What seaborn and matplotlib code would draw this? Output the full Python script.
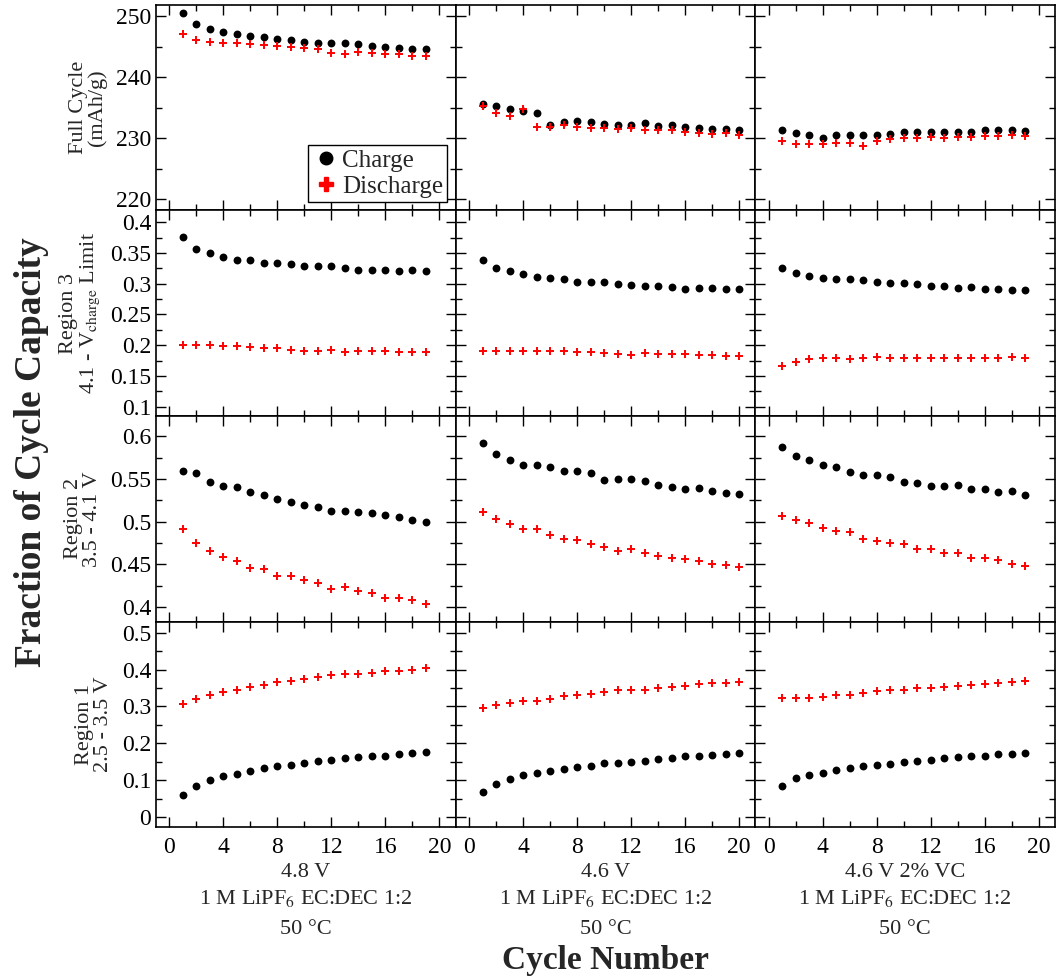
import matplotlib

matplotlib.use("Agg")
import matplotlib.pyplot as plt
import numpy as np
import pandas as pd
import seaborn as sns
from matplotlib.lines import Line2D
from matplotlib.ticker import FuncFormatter, MultipleLocator

# cells (columns) and capacity windows (rows)
cells = ["4.8 V", "4.6 V", "4.6 V 2% VC"]
regions = ["Full Cycle", "Region 3", "Region 2", "Region 1"]
cell_labels = [
    ["4.8 V", "1 M LiPF$_6$ EC:DEC 1:2", "50 \u00b0C"],
    ["4.6 V", "1 M LiPF$_6$ EC:DEC 1:2", "50 \u00b0C"],
    ["4.6 V 2% VC", "1 M LiPF$_6$ EC:DEC 1:2", "50 \u00b0C"],
]
region_labels = [
    "Full Cycle\n(mAh/g)",
    "Region 3\n4.1 - V$_{\\mathrm{charge}}$ Limit",
    "Region 2\n3.5 - 4.1 V",
    "Region 1\n2.5 - 3.5 V",
]

# full cycle capacity (mAh/g)
full_48_charge = [250.4, 248.7, 247.8, 247.3, 247.0, 246.7, 246.5, 246.2, 246.0, 245.7,
                  245.5, 245.5, 245.5, 245.4, 245.1, 245.0, 244.8, 244.6, 244.6]
full_48_discharge = [247.1, 246.1, 245.8, 245.6, 245.5, 245.4, 245.2, 245.1, 244.9, 244.7,
                     244.6, 243.9, 243.8, 244.1, 243.9, 243.8, 243.7, 243.4, 243.5]
full_46_charge = [235.6, 235.2, 234.8, 234.4, 234.2, 232.2, 232.7, 232.8, 232.6, 232.4,
                  232.2, 232.2, 232.5, 232.0, 232.1, 231.9, 231.7, 231.5, 231.5, 231.4]
full_46_discharge = [235.3, 234.2, 233.7, 234.8, 231.8, 231.8, 232.1, 231.9, 231.7, 231.6,
                     231.5, 231.6, 231.4, 231.4, 231.3, 231.1, 230.9, 230.7, 230.8, 230.5]
full_vc_charge = [231.3, 230.8, 230.6, 230.0, 230.5, 230.5, 230.5, 230.6, 230.7, 231.0,
                  231.1, 231.1, 231.1, 231.1, 231.1, 231.3, 231.3, 231.3, 231.2]
full_vc_discharge = [229.5, 229.0, 229.0, 229.0, 229.2, 229.3, 228.8, 229.5, 229.8, 230.0,
                     230.1, 230.2, 230.0, 230.2, 230.2, 230.4, 230.4, 230.5, 230.4]

# region 3: 4.1 V - charge limit
r3_48_charge = [0.376, 0.357, 0.350, 0.344, 0.338, 0.338, 0.334, 0.333, 0.332, 0.329,
                0.328, 0.328, 0.326, 0.322, 0.322, 0.322, 0.320, 0.322, 0.321]
r3_48_discharge = [0.200, 0.201, 0.200, 0.198, 0.199, 0.197, 0.196, 0.196, 0.192, 0.191,
                   0.191, 0.192, 0.189, 0.190, 0.190, 0.190, 0.189, 0.189, 0.189]
r3_46_charge = [0.339, 0.326, 0.321, 0.316, 0.311, 0.310, 0.308, 0.303, 0.303, 0.302,
                0.300, 0.298, 0.296, 0.296, 0.295, 0.292, 0.293, 0.293, 0.292, 0.292]
r3_46_discharge = [0.191, 0.191, 0.191, 0.191, 0.191, 0.191, 0.191, 0.189, 0.189, 0.187,
                   0.186, 0.184, 0.187, 0.186, 0.186, 0.185, 0.184, 0.184, 0.183, 0.183]
r3_vc_charge = [0.325, 0.317, 0.312, 0.310, 0.308, 0.307, 0.306, 0.303, 0.301, 0.301,
                0.299, 0.297, 0.296, 0.293, 0.294, 0.291, 0.291, 0.290, 0.290]
r3_vc_discharge = [0.166, 0.173, 0.177, 0.179, 0.180, 0.178, 0.180, 0.181, 0.180, 0.179,
                   0.180, 0.180, 0.180, 0.180, 0.180, 0.180, 0.180, 0.181, 0.180]

# region 2: 3.5 - 4.1 V
r2_48_charge = [0.560, 0.557, 0.547, 0.542, 0.541, 0.535, 0.531, 0.527, 0.523, 0.520,
                0.517, 0.513, 0.513, 0.511, 0.510, 0.508, 0.506, 0.502, 0.500]
r2_48_discharge = [0.491, 0.475, 0.466, 0.459, 0.454, 0.446, 0.445, 0.437, 0.436, 0.432,
                   0.428, 0.421, 0.423, 0.419, 0.417, 0.411, 0.411, 0.408, 0.404]
r2_46_charge = [0.592, 0.579, 0.573, 0.567, 0.567, 0.564, 0.559, 0.559, 0.557, 0.549,
                0.550, 0.550, 0.548, 0.543, 0.541, 0.539, 0.540, 0.536, 0.534, 0.532]
r2_46_discharge = [0.511, 0.503, 0.497, 0.491, 0.492, 0.484, 0.480, 0.479, 0.474, 0.471,
                   0.466, 0.468, 0.463, 0.460, 0.458, 0.456, 0.454, 0.451, 0.449, 0.447]
r2_vc_charge = [0.588, 0.577, 0.572, 0.567, 0.564, 0.558, 0.555, 0.555, 0.553, 0.547,
                0.546, 0.542, 0.542, 0.543, 0.538, 0.539, 0.535, 0.536, 0.531]
r2_vc_discharge = [0.507, 0.502, 0.498, 0.493, 0.489, 0.488, 0.480, 0.478, 0.475, 0.474,
                   0.468, 0.468, 0.463, 0.463, 0.457, 0.457, 0.455, 0.450, 0.448]

# region 1: 2.5 - 3.5 V
r1_48_charge = [0.061, 0.084, 0.100, 0.111, 0.118, 0.126, 0.133, 0.138, 0.142, 0.148,
                0.153, 0.156, 0.160, 0.164, 0.166, 0.167, 0.170, 0.175, 0.176]
r1_48_discharge = [0.306, 0.321, 0.330, 0.339, 0.344, 0.354, 0.358, 0.365, 0.370, 0.375,
                   0.380, 0.386, 0.387, 0.389, 0.391, 0.396, 0.397, 0.399, 0.404]
r1_46_charge = [0.067, 0.091, 0.104, 0.115, 0.119, 0.124, 0.130, 0.136, 0.138, 0.146,
                0.147, 0.149, 0.153, 0.158, 0.161, 0.165, 0.165, 0.169, 0.171, 0.173]
r1_46_discharge = [0.296, 0.303, 0.310, 0.316, 0.316, 0.321, 0.327, 0.331, 0.335, 0.339,
                   0.344, 0.344, 0.345, 0.350, 0.354, 0.356, 0.360, 0.363, 0.364, 0.366]
r1_vc_charge = [0.085, 0.105, 0.114, 0.121, 0.127, 0.133, 0.138, 0.142, 0.145, 0.149,
                0.153, 0.156, 0.160, 0.162, 0.165, 0.166, 0.171, 0.172, 0.175]
r1_vc_discharge = [0.324, 0.322, 0.323, 0.326, 0.330, 0.332, 0.337, 0.341, 0.344, 0.344,
                   0.349, 0.350, 0.354, 0.355, 0.359, 0.362, 0.364, 0.366, 0.368]

series = {
    ("Full Cycle", "4.8 V"): (full_48_charge, full_48_discharge),
    ("Full Cycle", "4.6 V"): (full_46_charge, full_46_discharge),
    ("Full Cycle", "4.6 V 2% VC"): (full_vc_charge, full_vc_discharge),
    ("Region 3", "4.8 V"): (r3_48_charge, r3_48_discharge),
    ("Region 3", "4.6 V"): (r3_46_charge, r3_46_discharge),
    ("Region 3", "4.6 V 2% VC"): (r3_vc_charge, r3_vc_discharge),
    ("Region 2", "4.8 V"): (r2_48_charge, r2_48_discharge),
    ("Region 2", "4.6 V"): (r2_46_charge, r2_46_discharge),
    ("Region 2", "4.6 V 2% VC"): (r2_vc_charge, r2_vc_discharge),
    ("Region 1", "4.8 V"): (r1_48_charge, r1_48_discharge),
    ("Region 1", "4.6 V"): (r1_46_charge, r1_46_discharge),
    ("Region 1", "4.6 V 2% VC"): (r1_vc_charge, r1_vc_discharge),
}

rows = []
for (region, cell), (charge, discharge) in series.items():
    for name, values in (("Charge", charge), ("Discharge", discharge)):
        for cycle, value in enumerate(values, start=1):
            rows.append({"region": region, "cell": cell, "step": name,
                         "cycle": cycle, "value": value})
data = pd.DataFrame(rows)

row_limits = [(218.2, 251.8), (0.085, 0.419), (0.383, 0.624), (-0.027, 0.53)]
row_major = [10, 0.05, 0.05, 0.1]
row_minor = [5, 0.025, 0.025, 0.05]

sns.set_theme(style="ticks")
plt.rcParams["font.family"] = ["Liberation Serif", "DejaVu Serif"]
plt.rcParams["mathtext.fontset"] = "stix"

fig, axes = plt.subplots(4, 3, figsize=(10.58, 9.8), dpi=100, sharex=True, sharey="row")
fig.subplots_adjust(left=0.1474, right=0.997, top=0.995, bottom=0.156,
                    hspace=0, wspace=0)

for i, region in enumerate(regions):
    for j, cell in enumerate(cells):
        ax = axes[i, j]
        sub = data[(data["region"] == region) & (data["cell"] == cell)]
        sns.scatterplot(data=sub[sub["step"] == "Charge"], x="cycle", y="value",
                        color="black", marker="o", s=32, linewidth=0, ax=ax)
        sns.scatterplot(data=sub[sub["step"] == "Discharge"], x="cycle", y="value",
                        color="red", marker="+", s=40, linewidth=1.4, ax=ax)
        ax.set_xlim(-1, 21.2)
        ax.set_ylim(*row_limits[i])
        ax.xaxis.set_major_locator(MultipleLocator(4))
        ax.xaxis.set_minor_locator(MultipleLocator(2))
        ax.yaxis.set_major_locator(MultipleLocator(row_major[i]))
        ax.yaxis.set_minor_locator(MultipleLocator(row_minor[i]))
        ax.yaxis.set_major_formatter(FuncFormatter(lambda v, _: f"{v:g}"))
        ax.tick_params(which="both", direction="in", top=True, right=True,
                       colors="black", labelsize=17)
        ax.tick_params(which="major", length=7, width=1)
        ax.tick_params(which="minor", length=4, width=1)
        ax.tick_params(axis="x", pad=7)
        for spine in ax.spines.values():
            spine.set_linewidth(1.2)
            spine.set_color("black")
        ax.set_xlabel("")
        ax.set_ylabel("")
        if j == 0:
            ax.set_ylabel(region_labels[i], fontsize=16, labelpad=6, linespacing=1.0)

handles = [
    Line2D([], [], linestyle="", marker="o", color="black", markersize=9),
    Line2D([], [], linestyle="", marker="P", color="red", markersize=10),
]
axes[0, 0].legend(handles, ["Charge", "Discharge"], loc="lower right",
                  fontsize=18, frameon=True, fancybox=False, edgecolor="black",
                  framealpha=1, borderaxespad=0.35, handletextpad=0.1,
                  handlelength=1.1, borderpad=0.15, labelspacing=0.15)

for j in range(3):
    pos = axes[3, j].get_position()
    xc = (pos.x0 + pos.x1) / 2
    for k, text in enumerate(cell_labels[j]):
        fig.text(xc, 1 - (872 + 26 * k + (5 if k == 2 else 0)) / 980, text,
                 ha="center", va="center", fontsize=16)

fig.text(0.030, 1 - 452 / 980, "Fraction of Cycle Capacity", rotation=90,
         ha="center", va="center", fontsize=27, fontweight="bold")
fig.text(0.572, 1 - 960 / 980, "Cycle Number", ha="center", va="center",
         fontsize=24, fontweight="bold")

fig.savefig("out.png", dpi=100)
